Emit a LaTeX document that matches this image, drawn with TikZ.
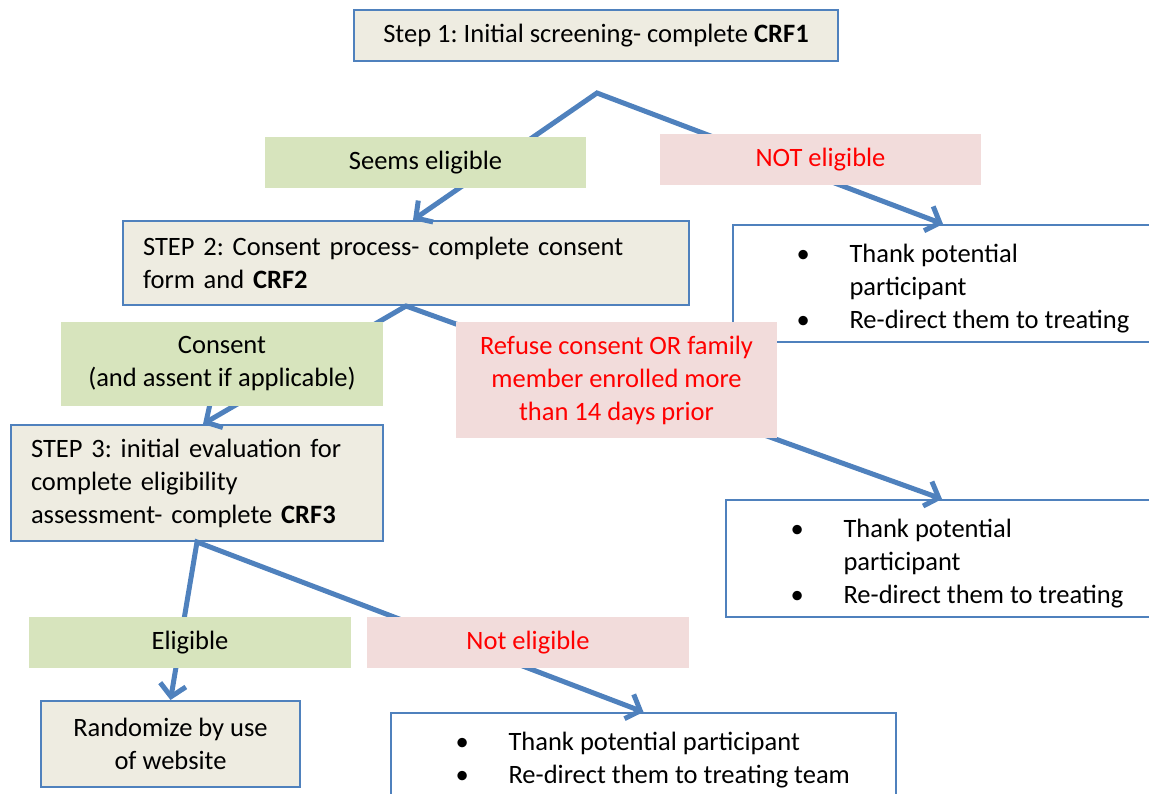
\documentclass[tikz,border=0pt]{standalone}
\usepackage{fontspec}
\setmainfont{Carlito}
\usetikzlibrary{arrows.meta}

\definecolor{boxblue}{HTML}{4F81BD}
\definecolor{stepfill}{HTML}{EEECE1}
\definecolor{yesfill}{HTML}{D7E4BD}
\definecolor{nofill}{HTML}{F2DCDB}

\tikzset{
  every node/.style={font=\fontsize{26.5}{33}\selectfont\frenchspacing},
  stepbox/.style={draw=boxblue, line width=2pt, fill=stepfill, inner sep=0pt},
  endbox/.style={draw=boxblue, line width=2pt, fill=white, inner sep=0pt},
  yesbox/.style={fill=yesfill, inner sep=0pt, align=center},
  nobox/.style={fill=nofill, text=red, inner sep=0pt, align=center},
  flow/.style={draw=boxblue, line width=5pt,
    {Straight Barb[length=12pt,width=26pt]}-{Straight Barb[length=12pt,width=26pt]}},
}

\begin{document}
\begin{tikzpicture}[x=1pt,y=-1pt]
\useasboundingbox (0,0) rectangle (1149,793);
\clip (0,0) rectangle (1149,793);

% steps
\node[stepbox, minimum width=484pt, minimum height=51pt] (step1) at (596,35.5)
  {Step 1: Initial screening- complete \textbf{CRF1}};
\node[stepbox, minimum width=566pt, minimum height=84pt, text width=526pt, inner xsep=20pt, align=left] (step2) at (406,263)
  {STEP 2: Consent process- complete consent\\form and \textbf{CRF2}};
\node[stepbox, minimum width=372pt, minimum height=116pt, text width=332pt, inner xsep=20pt, align=left] (step3) at (197,483)
  {STEP 3: initial evaluation for\\complete eligibility\\assessment- complete \textbf{CRF3}};
\node[stepbox, minimum width=259pt, minimum height=86pt, align=center] (rand) at (170.5,744)
  {Randomize by use\\of website};

% exits
\node[endbox, minimum width=420pt, minimum height=117pt] (endA) at (943,283.5) {};
\node[endbox, minimum width=432pt, minimum height=117pt] (endB) at (942,558.5) {};
\node[endbox, minimum width=505pt, minimum height=117pt] (endC) at (643.5,771.5) {};

\node[anchor=base west] (txtA) at (793,262)
  {\begin{tabular}[t]{@{}p{53pt}@{}l@{}}\textbullet & Thank potential\\ & participant\\ \textbullet & Re-direct them to treating\end{tabular}};
\node[anchor=base west] (txtB) at (787,537)
  {\begin{tabular}[t]{@{}p{53pt}@{}l@{}}\textbullet & Thank potential\\ & participant\\ \textbullet & Re-direct them to treating\end{tabular}};
\node[anchor=base west] (txtC) at (452,750)
  {\begin{tabular}[t]{@{}p{53pt}@{}l@{}}\textbullet & Thank potential participant\\ \textbullet & Re-direct them to treating team\end{tabular}};

% connectors
\coordinate (peakA) at (597,93);
\draw[flow] ([xshift=7pt]step2.north) -- (peakA) -- (endA.north);
\draw[flow] ([xshift=6pt]step3.north) -- (step2.south) -- (endB.north);
\draw[flow] (rand.north) -- (step3.south) -- (endC.north);

% decisions
\node[yesbox, minimum width=321pt, minimum height=51pt] (yesA) at (425.5,162.5) {Seems eligible};
\node[nobox, minimum width=321pt, minimum height=51pt] (noA) at (820.5,159.5) {NOT eligible};
\node[yesbox, minimum width=322pt, minimum height=84pt] (yesB) at (222,364)
  {Consent\\(and assent if applicable)};
\node[nobox, minimum width=321pt, minimum height=116pt] (noB) at (616.5,380)
  {Refuse consent OR family\\member enrolled more\\than 14 days prior};
\node[yesbox, minimum width=322pt, minimum height=51pt] (yesC) at (190,642.5) {Eligible};
\node[nobox, minimum width=322pt, minimum height=51pt] (noC) at (528,642.5) {Not eligible};
\end{tikzpicture}
\end{document}
